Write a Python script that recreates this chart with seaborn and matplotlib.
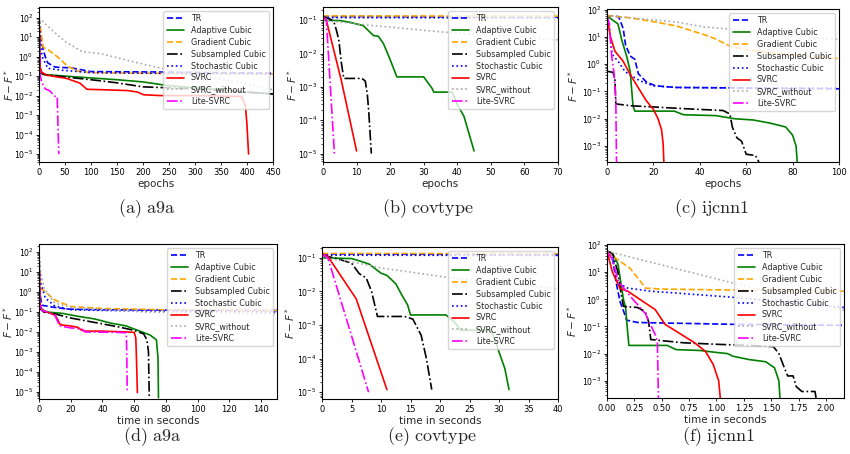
import matplotlib
matplotlib.use("Agg")
import matplotlib.pyplot as plt
import seaborn as sns

# ---------------- data ----------------
SERIES = ["TR", "Adaptive Cubic", "Gradient Cubic", "Subsampled Cubic",
          "Stochastic Cubic", "SVRC", "SVRC_without", "Lite-SVRC"]

# (a) a9a, epochs
a_tr_x = [0, 4, 8, 12, 17, 31, 63, 90, 100, 250, 450]
a_tr_y = [100, 10, 2.3, 1.0, 0.47, 0.29, 0.26, 0.19, 0.17, 0.16, 0.14]
a_ac_x = [0, 2, 10, 50, 100, 150, 200, 250, 300, 350, 400, 450]
a_ac_y = [100, 0.15, 0.12, 0.1, 0.08, 0.065, 0.05, 0.032, 0.025, 0.02, 0.015, 0.012]
a_gc_x = [0, 3, 8, 18, 35, 55, 75, 100, 200, 450]
a_gc_y = [100, 25, 3.0, 2.2, 1.0, 0.32, 0.18, 0.15, 0.14, 0.13]
a_sc_x = [0, 2, 10, 50, 100, 150, 200, 250, 300, 350, 400, 450]
a_sc_y = [100, 0.15, 0.12, 0.09, 0.065, 0.045, 0.028, 0.025, 0.022, 0.018, 0.015, 0.012]
a_st_x = [0, 3, 6, 17, 44, 100, 200, 450]
a_st_y = [100, 5, 1.0, 0.25, 0.2, 0.15, 0.14, 0.13]
a_sv_x = [0, 2, 5, 15, 53, 79, 92, 120, 171, 190, 201, 233, 300, 390, 397, 400, 403]
a_sv_y = [100, 0.3, 0.16, 0.11, 0.076, 0.043, 0.021, 0.02, 0.018, 0.015, 0.011, 0.01,
          0.01, 0.009, 0.003, 0.0003, 0.00001]
a_sw_x = [0, 20, 50, 83, 120, 180, 233, 300, 400, 450]
a_sw_y = [100, 30, 6, 1.8, 1.4, 0.55, 0.26, 0.12, 0.04, 0.02]
a_li_x = [0, 2, 5, 12, 20, 31, 35, 36, 37, 38]
a_li_y = [100, 0.13, 0.05, 0.022, 0.018, 0.009, 0.009, 0.001, 0.0001, 0.00001]

# (b) covtype, epochs
b_tr_x = [0, 70]
b_tr_y = [0.13, 0.125]
b_ac_x = [0, 5, 8, 12, 15, 16.5, 18, 20, 22, 30, 32.5, 33, 38.4, 40, 42, 45]
b_ac_y = [0.1, 0.098, 0.087, 0.069, 0.035, 0.033, 0.02, 0.0066, 0.002, 0.002,
          0.0009, 0.0007, 0.0007, 0.0003, 0.00013, 0.000012]
b_gc_x = [0, 70]
b_gc_y = [0.135, 0.133]
b_sc_x = [0, 2, 3.2, 4, 4.7, 5.5, 6.2, 11.6, 12.6, 13.2, 13.6, 14.4]
b_sc_y = [0.13, 0.11, 0.093, 0.05, 0.026, 0.005, 0.0018, 0.0018, 0.0015, 0.0006,
          0.0002, 0.00001]
b_st_x = [0, 70]
b_st_y = [0.12, 0.118]
b_sv_x = [0, 1, 5.5, 10]
b_sv_y = [0.13, 0.1, 0.0015, 0.000012]
b_sw_x = [0, 12, 36, 70]
b_sw_y = [0.1, 0.074, 0.044, 0.026]
b_li_x = [0, 1, 3.4]
b_li_y = [0.13, 0.1, 0.00001]

# (c) ijcnn1, epochs
c_tr_x = [0, 5, 7, 8, 10, 12, 13.5, 17, 21, 30, 100]
c_tr_y = [60, 55, 20, 5, 2.0, 1.5, 0.45, 0.22, 0.16, 0.14, 0.125]
c_ac_x = [0, 4.7, 6.5, 8.6, 10, 11.2, 12, 29, 33, 47, 55, 63, 70, 77, 80, 81.5, 82]
c_ac_y = [58, 30, 7, 1.8, 0.54, 0.03, 0.019, 0.019, 0.014, 0.013, 0.01, 0.009,
          0.007, 0.005, 0.0025, 0.001, 0.00026]
c_gc_x = [0, 10, 20, 30, 42, 46, 53, 60, 80, 100]
c_gc_y = [60, 50, 36, 25, 12, 9, 4.6, 3.3, 2.2, 1.6]
c_sc_x = [0, 2.6, 3.4, 3.8, 10, 20, 35, 50, 53, 54, 56, 58, 60, 64, 65.5]
c_sc_y = [0.55, 0.5, 0.3, 0.035, 0.03, 0.027, 0.023, 0.02, 0.015, 0.005, 0.002,
          0.0015, 0.0005, 0.00045, 0.00026]
c_st_x = [0, 1, 2.2, 5, 7.8, 10, 14, 20, 30, 100]
c_st_y = [60, 20, 2.3, 1.2, 0.53, 0.4, 0.25, 0.16, 0.14, 0.13]
c_sv_x = [0, 0.4, 1.5, 3.4, 6.9, 10, 13.4, 17, 20, 22, 23.5, 24.2, 24.5]
c_sv_y = [60, 37, 10, 3, 1.3, 0.42, 0.14, 0.045, 0.022, 0.01, 0.004, 0.0012, 0.00026]
c_sw_x = [0, 10, 30, 42, 51, 75, 100]
c_sw_y = [60, 50, 35, 23, 20, 12, 8]
c_li_x = [0, 1, 2, 3, 3.8, 4.1]
c_li_y = [60, 30, 2, 0.5, 0.05, 0.00026]

# (d) a9a, time in seconds
d_tr_x = [0, 0.5, 1.7, 8, 18, 40, 150]
d_tr_y = [100, 1, 0.22, 0.18, 0.14, 0.13, 0.12]
d_ac_x = [0, 0.5, 5, 15, 25, 35, 45, 55, 60, 65, 70, 74, 75, 75.3]
d_ac_y = [100, 0.15, 0.1, 0.085, 0.06, 0.045, 0.028, 0.02, 0.014, 0.01, 0.007,
          0.004, 0.0005, 0.000005]
d_gc_x = [0, 0.5, 1, 3, 10, 20, 40, 80, 150]
d_gc_y = [100, 8, 1.5, 1.2, 0.4, 0.19, 0.15, 0.13, 0.12]
d_sc_x = [0, 0.5, 3, 10, 20, 35, 50, 60, 66, 68, 69, 69.5]
d_sc_y = [100, 0.15, 0.1, 0.08, 0.05, 0.03, 0.018, 0.012, 0.008, 0.004, 0.001, 0.000005]
d_st_x = [0, 1, 4, 10, 20, 40, 150]
d_st_y = [100, 3, 0.5, 0.2, 0.13, 0.12, 0.1]
d_sv_x = [0, 0.5, 1.7, 5, 10, 12, 13, 15, 20, 24.5, 27, 30, 40, 55, 60, 61, 61.5, 62]
d_sv_y = [100, 0.3, 0.13, 0.1, 0.07, 0.04, 0.025, 0.022, 0.02, 0.017, 0.012, 0.011,
          0.011, 0.01, 0.0095, 0.005, 0.0003, 0.000009]
d_sw_x = [0, 1, 3.6, 10, 22.6, 67, 150]
d_sw_y = [100, 10, 1.3, 0.28, 0.16, 0.1, 0.08]
d_li_x = [0, 0.5, 2, 5, 10, 13, 20, 27, 29, 50, 55, 55.3, 55.6]
d_li_y = [100, 0.3, 0.12, 0.1, 0.07, 0.02, 0.016, 0.014, 0.01, 0.0095, 0.009,
          0.001, 0.00001]

# (e) covtype, time in seconds
e_tr_x = [0, 40]
e_tr_y = [0.13, 0.125]
e_ac_x = [0, 5, 6, 8, 10, 11, 12.5, 13.5, 14.5, 15, 21, 22.5, 23.5, 28.7, 29.8, 31, 31.7]
e_ac_y = [0.1, 0.095, 0.085, 0.065, 0.035, 0.03, 0.017, 0.008, 0.004, 0.002, 0.002,
          0.0012, 0.0007, 0.0007, 0.0002, 0.00005, 0.000012]
e_gc_x = [0, 40]
e_gc_y = [0.135, 0.133]
e_sc_x = [0, 2, 5, 6.3, 7.5, 8.4, 9.4, 14, 15.4, 16.8, 17.7, 18.6]
e_sc_y = [0.12, 0.1, 0.07, 0.034, 0.025, 0.01, 0.0018, 0.0018, 0.0015, 0.0005,
          0.0001, 0.000012]
e_st_x = [0, 40]
e_st_y = [0.12, 0.118]
e_sv_x = [0, 1, 5.8, 11]
e_sv_y = [0.135, 0.11, 0.006, 0.000012]
e_sw_x = [0, 5, 10, 20.8, 40]
e_sw_y = [0.1, 0.076, 0.05, 0.027, 0.012]
e_li_x = [0, 1, 7.9]
e_li_y = [0.13, 0.1, 0.00001]

# (f) ijcnn1, time in seconds
f_tr_x = [0, 0.05, 0.08, 0.12, 0.14, 0.18, 0.28, 1.15, 2.165]
f_tr_y = [60, 40, 5, 0.8, 0.5, 0.17, 0.14, 0.12, 0.11]
f_ac_x = [0, 0.05, 0.1, 0.15, 0.17, 0.18, 0.2, 0.55, 0.63, 0.85, 1.0, 1.1, 1.15,
          1.3, 1.45, 1.53, 1.57, 1.58]
f_ac_y = [60, 50, 20, 1, 0.5, 0.15, 0.02, 0.02, 0.014, 0.013, 0.011, 0.01, 0.008,
          0.006, 0.005, 0.003, 0.001, 0.00023]
f_gc_x = [0, 0.05, 0.21, 0.3, 0.35, 0.5, 1.15, 2.165]
f_gc_y = [60, 40, 14, 5, 2.6, 2.4, 2.2, 2.0]
f_sc_x = [0, 0.05, 0.1, 0.13, 0.15, 0.28, 0.35, 0.38, 0.4, 0.5, 0.7, 1.0, 1.3,
          1.52, 1.57, 1.62, 1.65, 1.7, 1.73, 1.78, 1.9, 1.91]
f_sc_y = [60, 50, 10, 1.5, 0.55, 0.5, 0.35, 0.15, 0.033, 0.03, 0.025, 0.022, 0.02,
          0.018, 0.01, 0.003, 0.0015, 0.0015, 0.0006, 0.0004, 0.0004, 0.00023]
f_st_x = [0, 0.05, 0.1, 0.19, 0.4, 1.14, 2.165]
f_st_y = [60, 30, 4, 2.6, 2.0, 1.2, 0.5]
f_sv_x = [0, 0.05, 0.12, 0.19, 0.3, 0.44, 0.53, 0.65, 0.8, 0.9, 0.97, 1.02, 1.035]
f_sv_y = [60, 10, 2.5, 2.0, 1.0, 0.42, 0.12, 0.06, 0.025, 0.012, 0.004, 0.001, 0.00023]
f_sw_x = [0, 1.15, 2.165]
f_sw_y = [60, 4, 0.4]
f_li_x = [0, 0.05, 0.1, 0.2, 0.35, 0.44, 0.46, 0.47]
f_li_y = [60, 30, 5, 1.5, 0.3, 0.05, 0.03, 0.00023]

CAPTIONS = ["(a) a9a", "(b) covtype", "(c) ijcnn1",
            "(d) a9a", "(e) covtype", "(f) ijcnn1"]
XLABELS = ["epochs", "epochs", "epochs",
           "time in seconds", "time in seconds", "time in seconds"]

# ---------------- style ----------------
sns.set_theme(style="ticks")
plt.rcParams.update({
    "font.family": ["DejaVu Sans"],
    "axes.edgecolor": "black",
    "axes.linewidth": 0.8,
    "xtick.color": "black",
    "ytick.color": "black",
    "xtick.labelsize": 6,
    "ytick.labelsize": 5.6,
    "xtick.major.size": 2.5,
    "ytick.major.size": 2.5,
    "xtick.major.width": 0.6,
    "ytick.major.width": 0.6,
    "ytick.minor.size": 1.5,
    "ytick.minor.width": 0.5,
    "xtick.major.pad": 2,
    "ytick.major.pad": 1.5,
    "axes.labelsize": 7.5,
    "axes.labelpad": 1,
})

STYLE = [("blue", "--"), ("green", "-"), ("orange", "--"), ("black", "-."),
         ("blue", ":"), ("red", "-"), ("darkgray", ":"), ("magenta", "-.")]

panels = [
    [(a_tr_x, a_tr_y), (a_ac_x, a_ac_y), (a_gc_x, a_gc_y), (a_sc_x, a_sc_y),
     (a_st_x, a_st_y), (a_sv_x, a_sv_y), (a_sw_x, a_sw_y), (a_li_x, a_li_y)],
    [(b_tr_x, b_tr_y), (b_ac_x, b_ac_y), (b_gc_x, b_gc_y), (b_sc_x, b_sc_y),
     (b_st_x, b_st_y), (b_sv_x, b_sv_y), (b_sw_x, b_sw_y), (b_li_x, b_li_y)],
    [(c_tr_x, c_tr_y), (c_ac_x, c_ac_y), (c_gc_x, c_gc_y), (c_sc_x, c_sc_y),
     (c_st_x, c_st_y), (c_sv_x, c_sv_y), (c_sw_x, c_sw_y), (c_li_x, c_li_y)],
    [(d_tr_x, d_tr_y), (d_ac_x, d_ac_y), (d_gc_x, d_gc_y), (d_sc_x, d_sc_y),
     (d_st_x, d_st_y), (d_sv_x, d_sv_y), (d_sw_x, d_sw_y), (d_li_x, d_li_y)],
    [(e_tr_x, e_tr_y), (e_ac_x, e_ac_y), (e_gc_x, e_gc_y), (e_sc_x, e_sc_y),
     (e_st_x, e_st_y), (e_sv_x, e_sv_y), (e_sw_x, e_sw_y), (e_li_x, e_li_y)],
    [(f_tr_x, f_tr_y), (f_ac_x, f_ac_y), (f_gc_x, f_gc_y), (f_sc_x, f_sc_y),
     (f_st_x, f_st_y), (f_sv_x, f_sv_y), (f_sw_x, f_sw_y), (f_li_x, f_li_y)],
]

# axes boxes in pixels: left, top, right, bottom
BOXES = [(39, 7, 273, 162), (323, 7, 558, 162), (607, 9, 839, 162),
         (39, 244, 277, 399), (322, 247, 558, 399), (607, 244, 844, 398)]
XLIMS = [(0, 450), (0, 70), (0, 100), (0, 150), (0, 40), (0, 2.165)]
YLIMS = [(3.9e-6, 350), (5.6e-6, 0.25), (2.6e-4, 105),
         (4.3e-6, 260), (6.3e-6, 0.21), (2.3e-4, 110)]
XTICKS = [list(range(0, 451, 50)), list(range(0, 71, 10)), list(range(0, 101, 20)),
          list(range(0, 141, 20)), list(range(0, 41, 5)),
          [0, 0.25, 0.5, 0.75, 1.0, 1.25, 1.5, 1.75, 2.0]]
CAP_POS = [(147, 209), (428, 209), (712, 209), (152, 437), (432, 437), (718, 437)]
# pixel x of the right edge of each rotated y label
YLABEL_X = [16, 299, 580, 15, 297, 579]

W, H = 850, 454
fig = plt.figure(figsize=(W / 100, H / 100), dpi=100)

for i, series in enumerate(panels):
    l, t, r, b = BOXES[i]
    ax = fig.add_axes([l / W, 1 - b / H, (r - l) / W, (b - t) / H])
    for (xs, ys), name, (col, ls) in zip(series, SERIES, STYLE):
        sns.lineplot(x=xs, y=ys, ax=ax, color=col, linestyle=ls, linewidth=1.2,
                     label=name, sort=False, estimator=None)
    ax.set_yscale("log")
    ax.set_xlim(*XLIMS[i])
    ax.set_ylim(*YLIMS[i])
    ax.set_xticks(XTICKS[i])
    if i == 5:
        ax.set_xticklabels(["%.2f" % v for v in XTICKS[i]])
    ax.set_xlabel(XLABELS[i])
    ax.set_ylabel(r"$F-F^*$", fontsize=7.5)
    ax.yaxis.set_label_coords((YLABEL_X[i] - l) / (r - l), 0.5)
    ax.legend(loc="upper right", fontsize=5.8, labelspacing=0.35,
              handlelength=2.2, borderpad=0.4, handletextpad=0.8,
              borderaxespad=0.5, framealpha=0.8, fancybox=True)
    cx, cy = CAP_POS[i]
    fig.text(cx / W, 1 - cy / H, r"$\mathrm{" + CAPTIONS[i].replace(" ", r"\ ") + "}$",
             ha="center", va="center", fontsize=13, math_fontfamily="cm")

fig.savefig("out.png", dpi=100)
